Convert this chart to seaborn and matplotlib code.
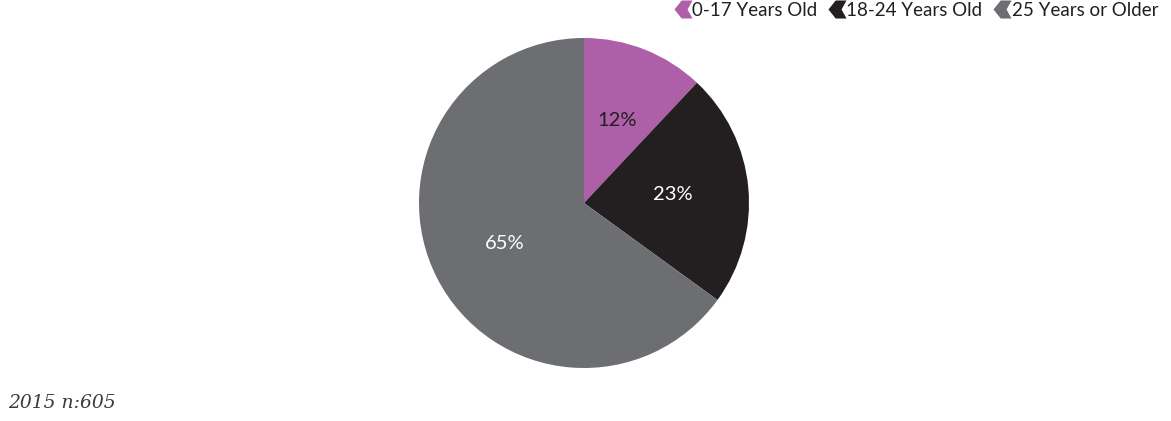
import matplotlib
matplotlib.use("Agg")
import matplotlib.pyplot as plt
from matplotlib.path import Path
from matplotlib.lines import Line2D
import seaborn as sns

# Age groups and their shares (percent)
categories = ["0-17 Years Old", "18-24 Years Old", "25 Years or Older"]
shares = [12, 23, 65]
colors = ["#AD5FA8", "#231F20", "#6D6E71"]
label_colors = ["#231F20", "#FFFFFF", "#FFFFFF"]
footnote = "2015 n:605"

sns.set_theme(style="white")
plt.rcParams["font.family"] = ["Lato", "DejaVu Sans"]

fig = plt.figure(figsize=(11.71, 4.21), dpi=100)
ax = fig.add_axes([419 / 1171, 53 / 421, 330 / 1171, 330 / 421])

wedges, texts, autotexts = ax.pie(
    shares,
    colors=sns.color_palette(colors),
    startangle=90,
    counterclock=False,
    autopct="%d%%",
    pctdistance=0.54,
    wedgeprops=dict(linewidth=0),
    textprops=dict(fontsize=14.5),
)
for t, c in zip(autotexts, label_colors):
    t.set_color(c)
ax.set_xlim(-1, 1)
ax.set_ylim(-1, 1)
ax.set_aspect("equal")

# Chevron-shaped legend marker pointing left
chevron = Path(
    [(1.0, 1.0), (-0.2, 1.0), (-1.0, 0.0), (-0.2, -1.0), (1.0, -1.0), (0.45, 0.0), (1.0, 1.0)],
    [Path.MOVETO, Path.LINETO, Path.LINETO, Path.LINETO, Path.LINETO, Path.LINETO, Path.CLOSEPOLY],
)
handles = [
    Line2D([], [], linestyle="none", marker=chevron, markersize=13,
           markerfacecolor=c, markeredgewidth=0)
    for c in colors
]
fig.legend(
    handles, categories,
    loc="upper right", bbox_to_anchor=(1160 / 1171, 1.0),
    ncol=3, frameon=False, fontsize=13.5,
    handlelength=0.7, handletextpad=0.15, columnspacing=0.7,
    borderaxespad=0.0, borderpad=0.1,
    labelcolor="#231F20",
)

fig.text(8 / 1171, 1 - 403 / 421, footnote, fontsize=13.5, style="italic",
         family="DejaVu Serif", color="#3A3A3A", va="center", ha="left")

fig.savefig("out.png", dpi=100, facecolor="white")
